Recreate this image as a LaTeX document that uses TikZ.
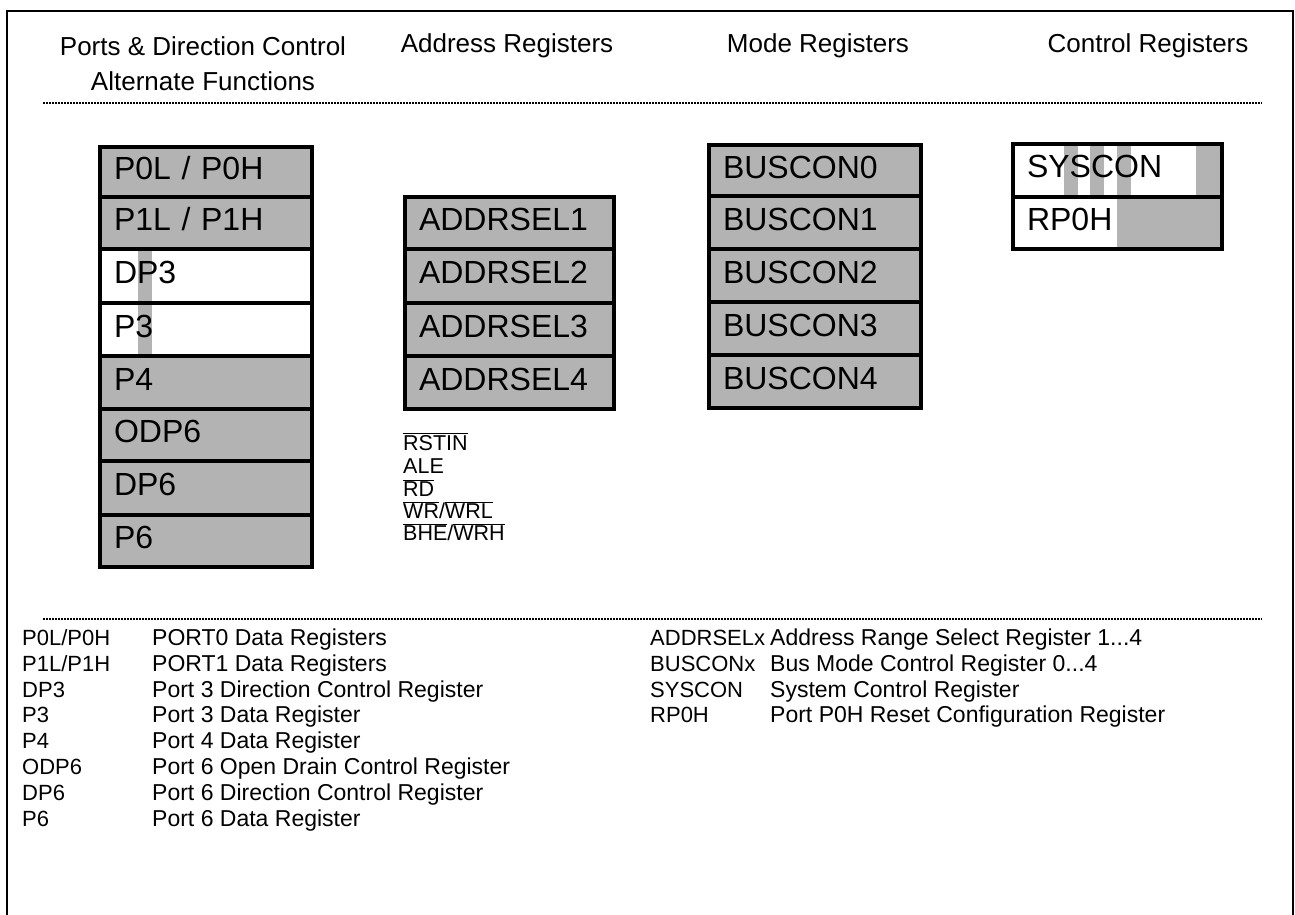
\documentclass[tikz,border=0pt]{standalone}
\usepackage{fontspec}
\setmainfont{Liberation Sans}
\definecolor{reggray}{RGB}{179,179,179}
\newcommand\myovl[1]{$\overline{\hbox{#1}}$}
\tikzset{
  regbox/.style={draw=black, line width=4pt, rectangle, inner ysep=0pt, inner xsep=14pt,
    align=left, font=\fontsize{32}{32}\selectfont, text height=24pt, text depth=9pt,
    anchor=north west, minimum height=52pt},
  headtxt/.style={font=\fontsize{26}{26}\selectfont, inner sep=0pt, anchor=center},
  sigtxt/.style={font=\fontsize{21.5}{21.5}\selectfont, inner sep=0pt, anchor=base west},
  legtxt/.style={font=\fontsize{23}{23}\selectfont, inner sep=0pt, anchor=base west},
  leglab/.style={font=\fontsize{22}{22}\selectfont, inner sep=0pt, anchor=base west},
  dotline/.style={line width=2.5pt, dash pattern=on 2pt off 1pt},
  frameline/.style={line width=2pt}
}
\newcommand\regnode[8]{% name, x1, y1, x2, y2, fill, text, tw
  \node[regbox, fill=#6, minimum height=#5pt-#3pt, text width=#8pt] (#1) at (#2,#3) {#7};}
\begin{document}
\begin{tikzpicture}[x=1pt,y=-1pt]
\useasboundingbox (0,0) rectangle (1295,915);
% frame
\draw[frameline] (7,915) -- (7,11) -- (1293,11) -- (1293,915);
% headers
\node[headtxt] (h1a) at (203,46) {Ports \& Direction Control};
\node[headtxt] (h1b) at (203,81) {Alternate Functions};
\node[headtxt] (h2) at (507,46) {Address Registers};
\node[headtxt] (h3) at (818,46) {Mode Registers};
\node[headtxt] (h4) at (1148,46) {Control Registers};
\draw[dotline] (43,103) -- (1262,103);
\draw[dotline] (43,619) -- (1262,619);
% bars behind white rows
\fill[reggray] (138,247) rectangle (152,354);
\fill[reggray] (1064,142) rectangle (1078,194.5);
\fill[reggray] (1090,142) rectangle (1104,194.5);
\fill[reggray] (1117,142) rectangle (1131,194.5);
\fill[reggray] (1196,142) rectangle (1220,194.5);
\fill[reggray] (1117,194.5) rectangle (1220,247);
% left column
\regnode{p0}{98}{145}{310}{195}{reggray}{P0L / P0H}{184}
\regnode{p1}{98}{195}{310}{247}{reggray}{P1L / P1H}{184}
\regnode{dp3}{98}{247}{310}{301}{none}{DP3}{184}
\regnode{p3}{98}{301}{310}{354}{none}{P3}{184}
\regnode{p4}{98}{354}{310}{407}{reggray}{P4}{184}
\regnode{odp6}{98}{407}{310}{459}{reggray}{ODP6}{184}
\regnode{dp6}{98}{459}{310}{513}{reggray}{DP6}{184}
\regnode{p6}{98}{513}{310}{565}{reggray}{P6}{184}
% address registers
\regnode{as1}{403}{195}{612}{247}{reggray}{ADDRSEL1}{181}
\regnode{as2}{403}{247}{612}{301}{reggray}{ADDRSEL2}{181}
\regnode{as3}{403}{301}{612}{354}{reggray}{ADDRSEL3}{181}
\regnode{as4}{403}{354}{612}{407}{reggray}{ADDRSEL4}{181}
% mode registers
\regnode{bc0}{707}{143}{919}{194}{reggray}{BUSCON0}{184}
\regnode{bc1}{707}{194}{919}{247}{reggray}{BUSCON1}{184}
\regnode{bc2}{707}{247}{919}{300}{reggray}{BUSCON2}{184}
\regnode{bc3}{707}{300}{919}{353}{reggray}{BUSCON3}{184}
\regnode{bc4}{707}{353}{919}{406}{reggray}{BUSCON4}{184}
% control registers
\regnode{sys}{1011}{142}{1220}{194.5}{none}{SYSCON}{181}
\regnode{rp0h}{1011}{194.5}{1220}{247}{none}{RP0H}{181}
% signals
\node[sigtxt] (s1) at (403,450) {\myovl{RSTIN}};
\node[sigtxt] (s2) at (403,473) {ALE};
\node[sigtxt] (s3) at (403,496) {\myovl{RD}};
\node[sigtxt] (s4) at (403,518) {\myovl{WR}/\myovl{WRL}};
\node[sigtxt] (s5) at (403,540) {\myovl{BHE}/\myovl{WRH}};
% legend left
\node[leglab] (l1) at (22,645) {P0L/P0H};
\node[legtxt] (d1) at (152,645) {PORT0 Data Registers};
\node[leglab] (l2) at (22,671) {P1L/P1H};
\node[legtxt] (d2) at (152,671) {PORT1 Data Registers};
\node[leglab] (l3) at (22,697) {DP3};
\node[legtxt] (d3) at (152,697) {Port 3 Direction Control Register};
\node[leglab] (l4) at (22,722) {P3};
\node[legtxt] (d4) at (152,722) {Port 3 Data Register};
\node[leglab] (l5) at (22,748) {P4};
\node[legtxt] (d5) at (152,748) {Port 4 Data Register};
\node[leglab] (l6) at (22,774) {ODP6};
\node[legtxt] (d6) at (152,774) {Port 6 Open Drain Control Register};
\node[leglab] (l7) at (22,800) {DP6};
\node[legtxt] (d7) at (152,800) {Port 6 Direction Control Register};
\node[leglab] (l8) at (22,826) {P6};
\node[legtxt] (d8) at (152,826) {Port 6 Data Register};
% legend right
\node[leglab] (r1) at (650,645) {ADDRSELx};
\node[legtxt] (e1) at (770,645) {Address Range Select Register 1...4};
\node[leglab] (r2) at (650,671) {BUSCONx};
\node[legtxt] (e2) at (770,671) {Bus Mode Control Register 0...4};
\node[leglab] (r3) at (650,697) {SYSCON};
\node[legtxt] (e3) at (770,697) {System Control Register};
\node[leglab] (r4) at (650,722) {RP0H};
\node[legtxt] (e4) at (770,722) {Port P0H Reset Configuration Register};
\end{tikzpicture}
\end{document}
